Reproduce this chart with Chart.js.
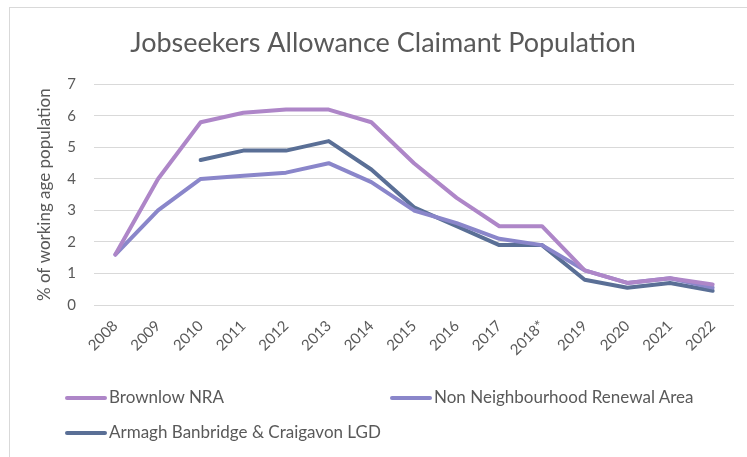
<!DOCTYPE html>
<html>
<head>
<meta charset="utf-8">
<script src="https://cdn.jsdelivr.net/npm/chart.js@4"></script>
<style>
  html, body { margin: 0; padding: 0; background: #fff; }
  #wrap { position: relative; width: 747px; height: 457px; overflow: hidden; }
  #frame { position: absolute; left: 9px; top: 7px; width: 800px; height: 500px; border: 1px solid #d9d9d9; box-sizing: border-box; }
  #chartCanvas { position: absolute; left: 0; top: 0; }
  .legend-item { position: absolute; font-family: Lato, sans-serif; font-size: 17px; color: #595959; white-space: nowrap; line-height: 20px; }
  .legend-item span.swatch { display: inline-block; width: 42px; height: 4px; border-radius: 2px; vertical-align: middle; margin-right: 2px; position: relative; top: -1px; }
</style>
</head>
<body>
<div id="wrap">
  <div id="frame"></div>
  <canvas id="chartCanvas" width="747" height="457"></canvas>
  <div id="legend"></div>
</div>
<script>
const years = ["2008", "2009", "2010", "2011", "2012", "2013", "2014", "2015", "2016", "2017", "2018*", "2019", "2020", "2021", "2022"];
const brownlow = [1.6, 4.0, 5.8, 6.1, 6.2, 6.2, 5.8, 4.5, 3.4, 2.5, 2.5, 1.1, 0.7, 0.85, 0.65];
const nonNRA = [1.6, 3.0, 4.0, 4.1, 4.2, 4.5, 3.9, 3.0, 2.6, 2.1, 1.9, 1.1, 0.7, 0.85, 0.55];
const abcLGD = [null, null, 4.6, 4.9, 4.9, 5.2, 4.3, 3.1, 2.5, 1.9, 1.9, 0.8, 0.55, 0.7, 0.45];
const seriesNames = ["Brownlow NRA", "Non Neighbourhood Renewal Area", "Armagh Banbridge & Craigavon LGD"];
const seriesColors = ["#ae86c8", "#8a86ca", "#5a6f96"];
const yTicks = [0, 1, 2, 3, 4, 5, 6, 7];

const textColor = "#595959";
const gridColor = "#d9d9d9";

const makeSet = (label, data, color) => ({
  label: label,
  data: data,
  borderColor: color,
  backgroundColor: color,
  borderWidth: 4,
  pointRadius: 0,
  tension: 0,
  borderCapStyle: "round",
  borderJoinStyle: "round",
});

const ctx = document.getElementById("chartCanvas").getContext("2d");
window.jsaChart = new Chart(ctx, {
  type: "line",
  data: {
    labels: years,
    datasets: [
      makeSet(seriesNames[0], brownlow, seriesColors[0]),
      makeSet(seriesNames[1], nonNRA, seriesColors[1]),
      makeSet(seriesNames[2], abcLGD, seriesColors[2]),
    ],
  },
  options: {
    responsive: false,
    animation: false,
    layout: {
      padding: { left: 32, right: 13, top: 7, bottom: 92 },
    },
    scales: {
      y: {
        min: 0,
        max: 7,
        afterBuildTicks: (scale) => {
          scale.ticks = yTicks.map((v) => ({ value: v }));
        },
        afterFit: (scale) => {
          scale.width = 62;
        },
        grid: { color: gridColor, lineWidth: 1, drawTicks: false },
        border: { display: false },
        ticks: {
          color: textColor,
          font: { family: "Lato", size: 15 },
          padding: 18,
        },
        title: {
          display: true,
          text: "% of working age population",
          color: textColor,
          font: { family: "Lato", size: 17 },
          padding: { top: 2, bottom: 0 },
        },
      },
      x: {
        offset: true,
        afterFit: (scale) => {
          scale.height = 60;
        },
        grid: { display: false },
        border: { display: false },
        ticks: {
          color: textColor,
          font: { family: "Lato", size: 15 },
          minRotation: 45,
          maxRotation: 45,
          autoSkip: false,
          padding: 4,
        },
      },
    },
    plugins: {
      legend: { display: false },
      tooltip: { enabled: false },
      title: {
        display: true,
        text: "Jobseekers Allowance Claimant Population",
        color: textColor,
        font: { family: "Lato", size: 27, weight: "normal" },
        padding: { top: 20, bottom: 25 },
      },
    },
  },
});

// legend laid out like the original two-column block
const legendSpots = [
  { left: 65, top: 387 },
  { left: 390, top: 387 },
  { left: 65, top: 422 },
];
document.getElementById("legend").innerHTML = seriesNames
  .map(
    (name, i) =>
      `<div class="legend-item" style="left:${legendSpots[i].left}px;top:${legendSpots[i].top}px">` +
      `<span class="swatch" style="background:${seriesColors[i]}"></span>${name}</div>`
  )
  .join("");
</script>
</body>
</html>
